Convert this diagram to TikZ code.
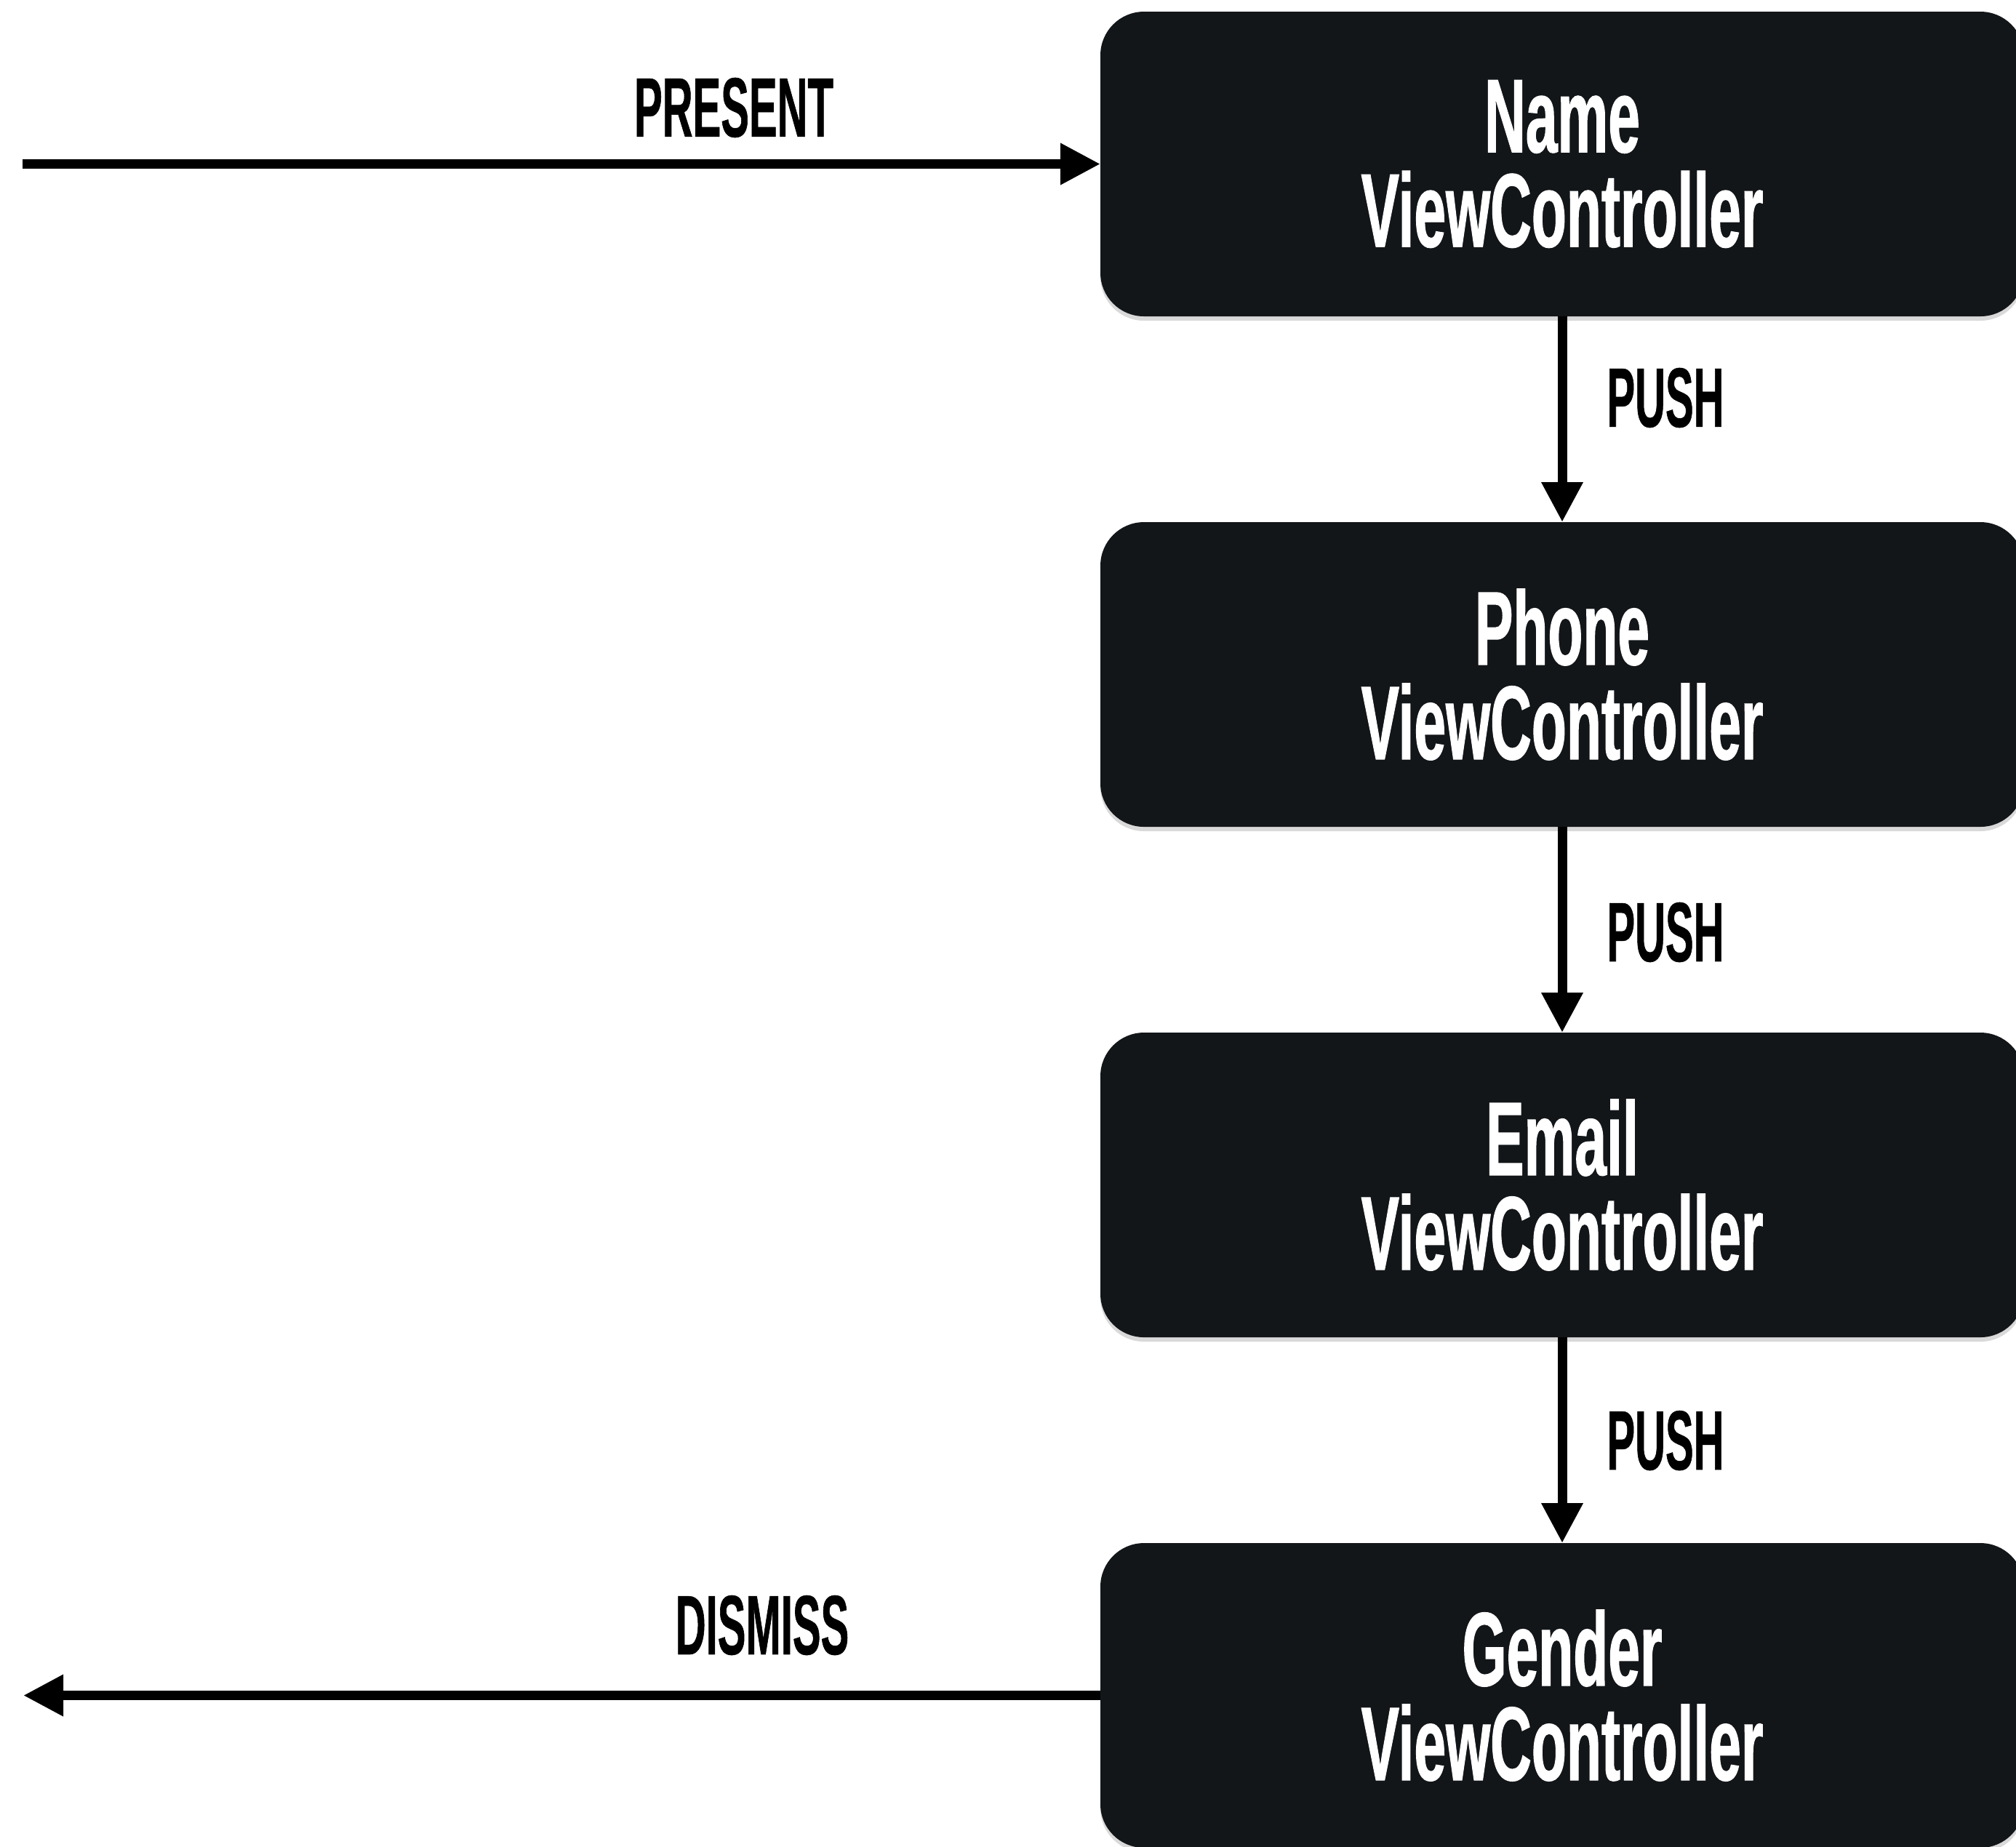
\documentclass[tikz,border=0pt]{standalone}
\usepackage{fontspec}
\usetikzlibrary{arrows.meta,shadows}
\newfontfamily\vcfont{Liberation Sans}[FakeStretch=0.545,FakeBold=0.8]
\newfontfamily\flowfont{Liberation Sans}[FakeStretch=0.5,FakeBold=0.5]
\definecolor{vcdark}{RGB}{19,22,25}
\begin{document}
\begin{tikzpicture}[x=1cm,y=-1cm,
  vcbox/.style={fill=vcdark, rounded corners=0.6cm, minimum width=12.7cm,
    minimum height=4.19cm, inner sep=0pt, outer sep=0pt, align=center,
    text=white, font=\vcfont\bfseries\fontsize{41}{37}\selectfont,
    drop shadow={shadow xshift=0cm, shadow yshift=-0.06cm, opacity=0.3}},
  flow/.style={line width=0.13cm, -{Triangle[length=0.55cm,width=0.54cm]}},
  flowlabel/.style={font=\flowfont\bfseries\fontsize{33}{33}\selectfont, inner sep=0pt}]
\useasboundingbox (0,0) rectangle (27.72,25.39);
\node[vcbox] (name) at (21.48,2.255) {Name\\ViewController};
\node[vcbox] (phone) at (21.48,9.275) {Phone\\ViewController};
\node[vcbox] (email) at (21.48,16.295) {Email\\ViewController};
\node[vcbox] (gender) at (21.48,23.315) {Gender\\ViewController};
\coordinate (entry) at (0.31,2.255);
\coordinate (exit) at (0.32,23.315);
\node[flowlabel] (present) at (10.09,1.48) {PRESENT};
\node[flowlabel] (dismiss) at (10.48,22.35) {DISMISS};
\node[flowlabel] (push1) at (22.9,5.47) {PUSH};
\node[flowlabel] (push2) at (22.9,12.82) {PUSH};
\node[flowlabel] (push3) at (22.9,19.81) {PUSH};
\draw[flow] (entry) -- (name.west);
\draw[flow] (name) -- (phone);
\draw[flow] (phone) -- (email);
\draw[flow] (email) -- (gender);
\draw[flow] (gender.west) -- (exit);
\end{tikzpicture}
\end{document}
